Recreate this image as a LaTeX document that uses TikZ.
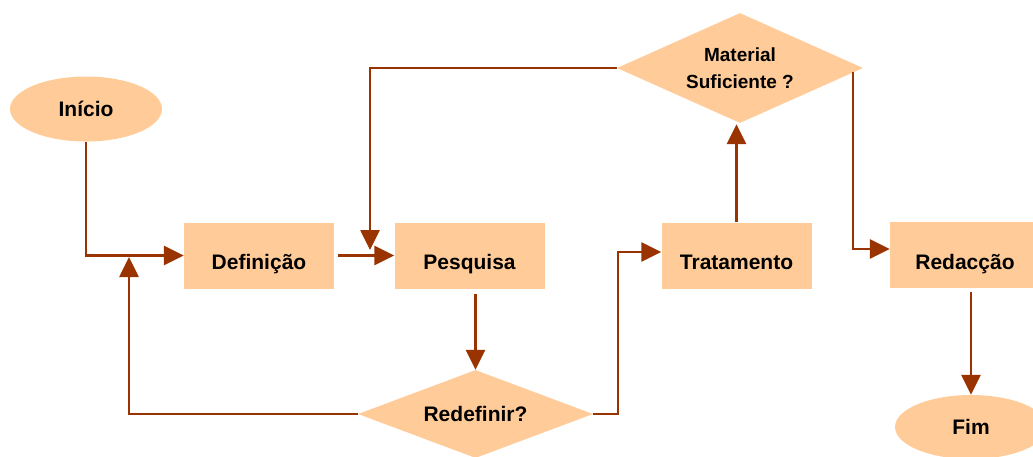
\documentclass[tikz,border=0pt]{standalone}
\usepackage{fontspec}
\setmainfont{Liberation Sans}
\usetikzlibrary{shapes.geometric,arrows.meta}
\definecolor{peach}{HTML}{FFCC99}
\definecolor{rust}{HTML}{993300}
\begin{document}
\begin{tikzpicture}[x=1pt,y=1pt,
  label font/.style={font=\fontsize{21}{24}\selectfont\bfseries, text=black},
  stepbox/.style={rectangle, fill=peach, draw=none, label font,
    minimum width=150pt, minimum height=66pt, inner sep=0pt,
    text height=28pt, text depth=0pt},
  terminal/.style={ellipse, fill=peach, draw=none, label font,
    minimum width=152pt, minimum height=65pt, inner sep=0pt},
  decision/.style={diamond, fill=peach, draw=none, label font,
    inner sep=0pt, align=center},
  flow/.style={draw=rust, line width=2.7pt, -{Triangle[length=20pt,width=19pt]}}
]
\useasboundingbox (0,0) rectangle (1033,-456);

% start and end
\node[terminal] (inicio) at (86,-109) {Início};
\node[terminal, minimum height=64pt] (fim) at (971,-427) {Fim};

% process steps
\node[stepbox] (definicao)  at (259,-255.5)   {Definição};
\node[stepbox] (pesquisa)   at (469.5,-255.5) {Pesquisa};
\node[stepbox] (tratamento) at (736.5,-255.5) {Tratamento};
\node[stepbox] (redaccao)   at (965,-255)     {Redacção};

% decisions
\node[decision, minimum width=246pt, minimum height=110pt, aspect=2.24,
      font=\fontsize{19}{27}\selectfont\bfseries] (material) at (740,-68)
      {Material\\Suficiente ?};
\node[decision, minimum width=235pt, minimum height=88pt, aspect=2.67] (redefinir)
      at (475.5,-414) {Redefinir?};

% junction points of the loops
\coordinate (jdef)  at (129,-257);
\coordinate (jtrat) at (618,-252);
\coordinate (jpes)  at (370,-250);
\coordinate (jmatA) at (853,-72);
\coordinate (jmatB) at (853,-249);

% connectors
\draw[flow] (inicio.south) |- (definicao.west);
\draw[flow, shorten <=4pt] (definicao.east) -- (pesquisa.west);
\draw[flow, shorten <=5pt] (redefinir.north |- pesquisa.south) -- (redefinir.north);
\draw[flow] (redefinir.west) -| (jdef);
\draw[flow] (redefinir.east) -| (jtrat) -- (jtrat -| tratamento.west);
\draw[flow] (tratamento.north) -- ([yshift=-1pt]tratamento.north |- material.south);
\draw[flow] (material.west) -| (jpes);
\draw[flow] (jmatA) -- (jmatB) -- (jmatB -| redaccao.west);
\draw[flow, shorten <=4pt] (fim.north |- redaccao.south) -- (fim.north);
\end{tikzpicture}
\end{document}
